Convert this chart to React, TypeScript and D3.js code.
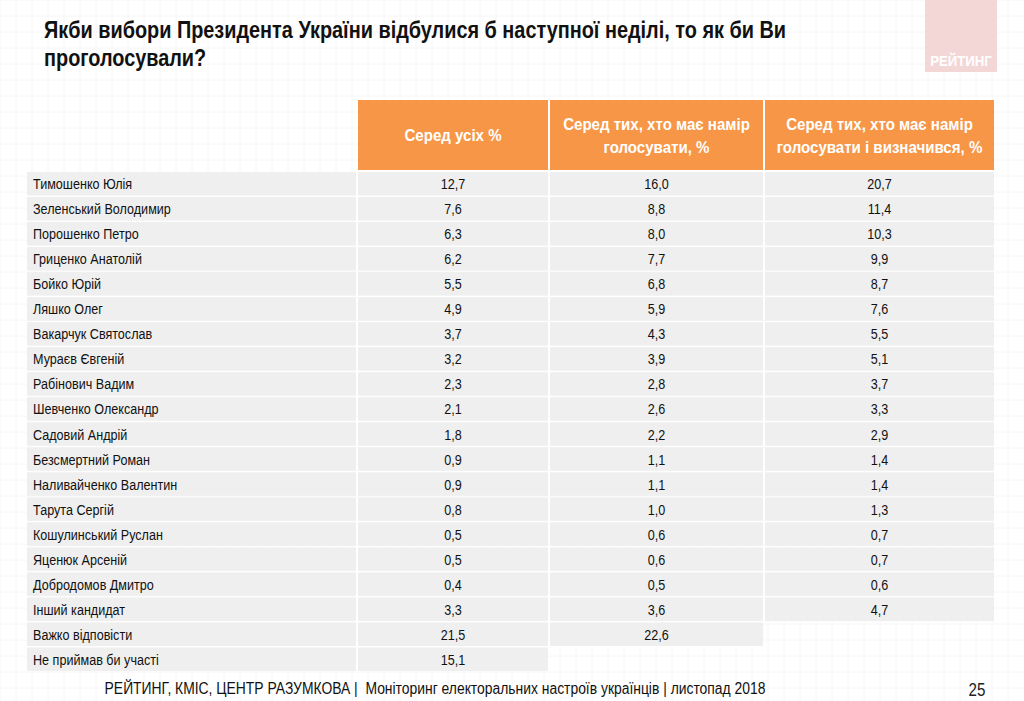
import React, { useEffect, useRef } from 'react';
import * as d3 from 'd3';

const title = ['Якби вибори Президента України відбулися б наступної неділі, то як би Ви', 'проголосували?'];

const columns = ['Серед усіх %', 'Серед тих, хто має намір|голосувати, %', 'Серед тих, хто має намір|голосувати і визначився, %'];

const candidates = [
  'Тимошенко Юлія', 'Зеленський Володимир', 'Порошенко Петро', 'Гриценко Анатолій', 'Бойко Юрій',
  'Ляшко Олег', 'Вакарчук Святослав', 'Мураєв Євгеній', 'Рабінович Вадим', 'Шевченко Олександр',
  'Садовий Андрій', 'Безсмертний Роман', 'Наливайченко Валентин', 'Тарута Сергій', 'Кошулинський Руслан',
  'Яценюк Арсеній', 'Добродомов Дмитро', 'Інший кандидат', 'Важко відповісти', 'Не приймав би участі',
];

const allPct = [12.7, 7.6, 6.3, 6.2, 5.5, 4.9, 3.7, 3.2, 2.3, 2.1, 1.8, 0.9, 0.9, 0.8, 0.5, 0.5, 0.4, 3.3, 21.5, 15.1];
const votersPct = [16.0, 8.8, 8.0, 7.7, 6.8, 5.9, 4.3, 3.9, 2.8, 2.6, 2.2, 1.1, 1.1, 1.0, 0.6, 0.6, 0.5, 3.6, 22.6, null];
const decidedPct = [20.7, 11.4, 10.3, 9.9, 8.7, 7.6, 5.5, 5.1, 3.7, 3.3, 2.9, 1.4, 1.4, 1.3, 0.7, 0.7, 0.6, 4.7, null, null];

const footer = 'РЕЙТИНГ, КМІС, ЦЕНТР РАЗУМКОВА |  Моніторинг електоральних настроїв українців | листопад 2018';

const W = 1024, H = 701;
const font = '"Liberation Sans", Arial, sans-serif';

export default function App() {
  const ref = useRef<SVGSVGElement>(null);

  useEffect(() => {
    const svg = d3.select(ref.current);
    svg.selectAll('*').remove();

    // narrow text: no Arial Narrow here, so squeeze Liberation Sans
    const txt = (parent: any, x: number, y: number, s: string, size: number, opts: any = {}) =>
      parent.append('text')
        .attr('transform', `translate(${x},${y}) scale(${opts.sx ?? 0.84},1)`)
        .attr('text-anchor', opts.anchor ?? 'start')
        .attr('font-family', font)
        .attr('font-weight', opts.bold ? 'bold' : 'normal')
        .attr('font-size', size)
        .attr('fill', opts.fill ?? '#111')
        .style('white-space', 'pre')
        .text(s);

    // faint slide grid
    const grid = svg.append('g');
    d3.range(0, W, 16).forEach(x => {
      grid.append('line').attr('x1', x).attr('x2', x).attr('y1', 0).attr('y2', H).attr('stroke', '#f6f6f6');
    });
    d3.range(0, H, 16).forEach(y => {
      grid.append('line').attr('x1', 0).attr('x2', W).attr('y1', y).attr('y2', y).attr('stroke', '#f6f6f6');
    });

    // logo
    svg.append('rect').attr('x', 925).attr('y', 0).attr('width', 72).attr('height', 72).attr('fill', '#f3d6d6');
    txt(svg, 961, 66, 'РЕЙТИНГ', 15, { anchor: 'middle', bold: true, fill: '#fff', sx: 0.88 });

    // title
    title.forEach((t, i) => txt(svg, 44, 38 + i * 28, t, 23, { bold: true, sx: 0.864 }));

    const colX = [27, 357, 549, 764, 995];
    const series = [allPct, votersPct, decidedPct];

    // header
    const headTop = 100, headBot = 170;
    series.forEach((_, c) => {
      const x0 = colX[c + 1] + 1, x1 = colX[c + 2] - 1;
      svg.append('rect').attr('x', x0).attr('y', headTop).attr('width', x1 - x0).attr('height', headBot - headTop)
        .attr('fill', '#f79646');
      const lines = columns[c].split('|');
      lines.forEach((l, i) => {
        txt(svg, (x0 + x1) / 2, (headTop + headBot) / 2 + 6 + (i - (lines.length - 1) / 2) * 23, l, 17,
          { anchor: 'middle', bold: true, fill: '#fff', sx: 0.887 });
      });
    });

    const y = d3.scaleBand<string>().domain(candidates).range([172, 671]).paddingInner(0.06);
    const fmt = (v: number) => d3.format('.1f')(v).replace('.', ',');

    const rows = svg.append('g').selectAll('g').data(candidates).join('g');
    rows.each(function (name, r) {
      const g = d3.select(this);
      const yy = y(name)!;
      const h = y.bandwidth();
      g.append('rect').attr('x', colX[0]).attr('y', yy).attr('width', colX[1] - colX[0] - 1).attr('height', h).attr('fill', '#efefef');
      txt(g, colX[0] + 6, yy + h / 2 + 5.5, name, 15);
      series.forEach((s, c) => {
        const v = s[r];
        if (v == null) return;
        const x0 = colX[c + 1] + 1, x1 = colX[c + 2] - 1;
        g.append('rect').attr('x', x0).attr('y', yy).attr('width', x1 - x0).attr('height', h).attr('fill', '#efefef');
        txt(g, (x0 + x1) / 2, yy + h / 2 + 5.5, fmt(v), 15, { anchor: 'middle' });
      });
    });

    // footer
    txt(svg, 435, 694, footer, 16, { anchor: 'middle', sx: 0.868 });
    txt(svg, 977, 696, '25', 18, { anchor: 'middle', fill: '#222' });
  }, []);

  return (
    <div style={{ position: 'absolute', left: 0, top: 0 }}>
      <svg ref={ref} width={W} height={H} style={{ display: 'block', background: '#fff' }} />
    </div>
  );
}
